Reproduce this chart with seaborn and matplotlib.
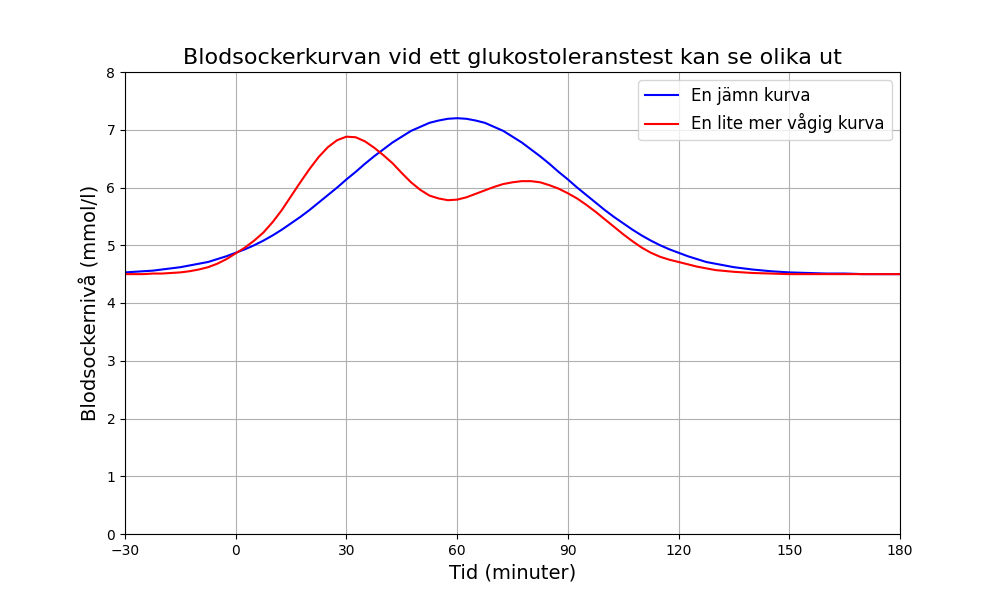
import matplotlib
matplotlib.use('Agg')
import matplotlib.pyplot as plt
import seaborn as sns

# tid i minuter
tid = [-30, -27.5, -25, -22.5, -20, -17.5, -15, -12.5, -10, -7.5, -5, -2.5,
       0, 2.5, 5, 7.5, 10, 12.5, 15, 17.5, 20, 22.5, 25, 27.5,
       30, 32.5, 35, 37.5, 40, 42.5, 45, 47.5, 50, 52.5, 55, 57.5,
       60, 62.5, 65, 67.5, 70, 72.5, 75, 77.5, 80, 82.5, 85, 87.5,
       90, 92.5, 95, 97.5, 100, 102.5, 105, 107.5, 110, 112.5, 115, 117.5,
       120, 122.5, 125, 127.5, 130, 135, 140, 145, 150, 155, 160, 165, 170, 175, 180]

# en jämn kurva (mmol/l)
jamn = [4.53, 4.54, 4.55, 4.56, 4.58, 4.60, 4.62, 4.65, 4.68, 4.71, 4.76, 4.81,
        4.87, 4.93, 5.00, 5.08, 5.17, 5.27, 5.38, 5.49, 5.61, 5.74, 5.87, 6.00,
        6.14, 6.27, 6.41, 6.54, 6.66, 6.78, 6.88, 6.98, 7.05, 7.12, 7.16, 7.19,
        7.20, 7.19, 7.16, 7.12, 7.05, 6.98, 6.88, 6.78, 6.66, 6.54, 6.41, 6.27,
        6.14, 6.00, 5.87, 5.74, 5.61, 5.49, 5.38, 5.27, 5.17, 5.08, 5.00, 4.93,
        4.87, 4.81, 4.76, 4.71, 4.68, 4.62, 4.58, 4.55, 4.53, 4.52, 4.51, 4.51, 4.50, 4.50, 4.50]

# en lite mer vågig kurva (mmol/l)
vagig = [4.50, 4.50, 4.50, 4.51, 4.51, 4.52, 4.53, 4.55, 4.58, 4.62, 4.68, 4.76,
         4.86, 4.96, 5.08, 5.22, 5.40, 5.61, 5.85, 6.09, 6.32, 6.53, 6.70, 6.82,
         6.88, 6.87, 6.80, 6.69, 6.56, 6.42, 6.25, 6.09, 5.96, 5.86, 5.81, 5.78,
         5.79, 5.83, 5.89, 5.95, 6.01, 6.06, 6.09, 6.11, 6.11, 6.09, 6.04, 5.98,
         5.90, 5.81, 5.70, 5.58, 5.45, 5.32, 5.19, 5.07, 4.96, 4.87, 4.80, 4.75,
         4.71, 4.67, 4.63, 4.60, 4.57, 4.54, 4.52, 4.51, 4.50, 4.50, 4.50, 4.50, 4.50, 4.50, 4.50]

plt.figure(figsize=(10, 6), dpi=100)
ax = sns.lineplot(x=tid, y=jamn, color='blue', label='En jämn kurva')
sns.lineplot(x=tid, y=vagig, color='red', label='En lite mer vågig kurva', ax=ax)

ax.set_title('Blodsockerkurvan vid ett glukostoleranstest kan se olika ut', fontsize=16)
ax.set_xlabel('Tid (minuter)', fontsize=14)
ax.set_ylabel('Blodsockernivå (mmol/l)', fontsize=14)
ax.set_xlim(-30, 180)
ax.set_ylim(0, 8)
ax.set_xticks([-30, 0, 30, 60, 90, 120, 150, 180])
ax.grid(True)
ax.legend(fontsize=12, loc='upper right')
plt.savefig('out.png')
